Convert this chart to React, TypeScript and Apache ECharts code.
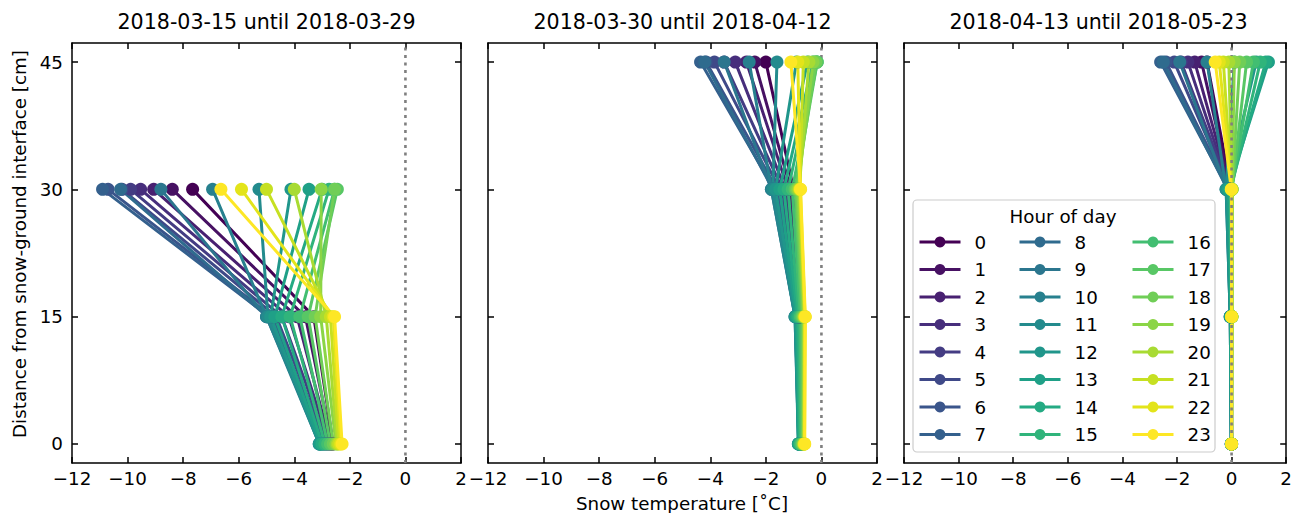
import React, { useEffect, useRef } from "react";
import * as echarts from "echarts";

const FONT = "DejaVu Sans";
const TICK_FS = 18.3;
const TITLE_FS = 20.6;

const HOURS = ["0","1","2","3","4","5","6","7","8","9","10","11","12","13","14","15","16","17","18","19","20","21","22","23"];
const PANEL_TITLES = ["2018-03-15 until 2018-03-29", "2018-03-30 until 2018-04-12", "2018-04-13 until 2018-05-23"];
const DEPTH_TICKS = [0, 15, 30, 45];

// Panel 1 (depths 0, 15, 30 cm)
const P1_T0 = [-2.6,-2.65,-2.7,-2.75,-2.8,-2.85,-2.9,-2.95,-3.0,-3.05,-3.1,-3.1,-3.1,-3.05,-3.0,-2.9,-2.8,-2.7,-2.6,-2.5,-2.45,-2.4,-2.33,-2.28];
const P1_T15 = [-3.3,-3.6,-3.9,-4.2,-4.45,-4.65,-4.8,-4.9,-4.97,-5.0,-5.0,-4.95,-4.85,-4.7,-4.45,-4.15,-3.8,-3.5,-3.25,-3.05,-2.85,-2.7,-2.6,-2.55];
const P1_T30 = [-7.66,-8.39,-9.06,-9.53,-9.89,-10.2,-10.7,-10.9,-10.25,-8.8,-6.94,-5.27,-4.12,-3.47,-3.0,-2.75,-2.55,-2.45,-2.55,-3.03,-4.0,-5.0,-5.9,-6.64];

// Panel 2 (depths 0, 15, 30, 45 cm)
const P2_T0 = [-0.72,-0.73,-0.74,-0.75,-0.76,-0.77,-0.78,-0.79,-0.8,-0.81,-0.82,-0.83,-0.83,-0.82,-0.8,-0.77,-0.74,-0.7,-0.67,-0.65,-0.63,-0.62,-0.61,-0.6];
const P2_T15 = [-0.75,-0.77,-0.8,-0.82,-0.84,-0.86,-0.88,-0.9,-0.92,-0.94,-0.95,-0.95,-0.93,-0.9,-0.86,-0.81,-0.76,-0.71,-0.67,-0.64,-0.62,-0.6,-0.59,-0.58];
const P2_T30 = [-1.0,-1.1,-1.2,-1.3,-1.4,-1.5,-1.6,-1.7,-1.75,-1.8,-1.8,-1.75,-1.65,-1.5,-1.35,-1.2,-1.05,-0.95,-0.9,-0.85,-0.8,-0.78,-0.76,-0.75];
const P2_T45 = [-2.0,-2.4,-2.7,-3.1,-3.5,-3.85,-4.15,-4.35,-4.2,-3.5,-2.6,-1.6,-0.9,-0.5,-0.3,-0.2,-0.15,-0.15,-0.2,-0.3,-0.45,-0.65,-0.85,-1.1];

// Panel 3 (depths 0, 15, 30, 45 cm)
const P3_T0 = [0.0,0.0,0.0,0.0,0.0,0.0,0.0,0.0,-0.01,-0.01,-0.01,-0.01,-0.01,-0.01,0.0,0.0,0.0,0.0,0.0,0.0,0.0,0.0,0.0,0.0];
const P3_T15 = [0.0,0.0,-0.01,-0.01,-0.02,-0.02,-0.03,-0.03,-0.04,-0.05,-0.05,-0.05,-0.04,-0.03,-0.02,-0.01,0.0,0.01,0.01,0.01,0.01,0.01,0.0,0.0];
const P3_T30 = [-0.02,-0.03,-0.04,-0.05,-0.06,-0.08,-0.1,-0.12,-0.15,-0.18,-0.2,-0.2,-0.18,-0.12,-0.06,-0.02,0.0,0.01,0.02,0.02,0.01,0.0,0.0,-0.01];
const P3_T45 = [-0.9,-1.1,-1.35,-1.6,-1.85,-2.1,-2.4,-2.6,-2.5,-1.9,-0.9,0.1,0.9,1.35,1.25,1.05,0.8,0.55,0.3,0.1,-0.1,-0.3,-0.45,-0.6];

const VIRIDIS_STOPS = ["#440154","#471365","#482475","#463480","#414487","#3b528b","#355f8d","#2f6c8e","#2a788e","#25848e","#21918c","#1e9c89","#22a884","#2fb47c","#44bf70","#5ec962","#7ad151","#9bd93c","#bddf26","#dfe318","#fde725"];

function hexToRgb(h: string) {
  return [parseInt(h.slice(1, 3), 16), parseInt(h.slice(3, 5), 16), parseInt(h.slice(5, 7), 16)];
}
function viridis(t: number) {
  const p = t * (VIRIDIS_STOPS.length - 1);
  const i = Math.min(VIRIDIS_STOPS.length - 2, Math.floor(p));
  const f = p - i;
  const a = hexToRgb(VIRIDIS_STOPS[i]);
  const b = hexToRgb(VIRIDIS_STOPS[i + 1]);
  const c = a.map((v, k) => Math.round(v + (b[k] - v) * f));
  return `rgb(${c[0]},${c[1]},${c[2]})`;
}

const fmt = (v: number) => (v < 0 ? "\u2212" + Math.abs(v) : String(v));

export default function App() {
  const ref = useRef<HTMLDivElement>(null);
  useEffect(() => {
    if (!ref.current) return;
    const chart = echarts.init(ref.current, undefined, { renderer: "svg" });

    const grids = [
      { left: 72, width: 389 },
      { left: 488, width: 389 },
      { left: 904, width: 389 },
    ].map((g) => ({ ...g, top: 43, height: 420 }));

    const tick = { inside: true, length: 6, lineStyle: { color: "#000", width: 1.5 } };
    const axisLine = { show: true, onZero: false, lineStyle: { color: "#000", width: 1.5 } };

    const xAxis: any[] = [];
    const yAxis: any[] = [];
    grids.forEach((_, p) => {
      const xBase = {
        type: "value", gridIndex: p, min: -12, max: 2, interval: 2,
        axisLine, splitLine: { show: false }, axisTick: tick,
      };
      xAxis.push({
        ...xBase, position: "bottom",
        axisLabel: { show: true, formatter: fmt, fontFamily: FONT, fontSize: TICK_FS, color: "#000", margin: 6, showMinLabel: true, showMaxLabel: true },
      });
      xAxis.push({ ...xBase, position: "top", axisLabel: { show: false } });
      const yBase = {
        type: "value", gridIndex: p, min: -2.25, max: 47.25,
        axisLine, splitLine: { show: false },
        axisTick: { ...tick, customValues: DEPTH_TICKS },
      };
      yAxis.push({
        ...yBase, position: "left",
        axisLabel: { show: p === 0, customValues: DEPTH_TICKS, fontFamily: FONT, fontSize: TICK_FS, color: "#000", margin: 9 },
      });
      yAxis.push({ ...yBase, position: "right", axisLabel: { show: false, customValues: DEPTH_TICKS } });
    });

    const panels = [
      { depths: [0, 15, 30], temps: [P1_T0, P1_T15, P1_T30] },
      { depths: [0, 15, 30, 45], temps: [P2_T0, P2_T15, P2_T30, P2_T45] },
      { depths: [0, 15, 30, 45], temps: [P3_T0, P3_T15, P3_T30, P3_T45] },
    ];

    const series: any[] = [];
    panels.forEach((pan, p) => {
      HOURS.forEach((h, i) => {
        const color = viridis(i / 23);
        series.push({
          type: "line", name: h, xAxisIndex: 2 * p, yAxisIndex: 2 * p,
          data: pan.depths.map((d, k) => [pan.temps[k][i], d]),
          symbol: "circle", symbolSize: 13, showSymbol: true,
          lineStyle: { color, width: 3 }, itemStyle: { color },
          color, silent: true,
        });
      });
      series.push({
        type: "line", name: "zero", xAxisIndex: 2 * p, yAxisIndex: 2 * p,
        data: [[0, -2.25], [0, 47.25]], symbol: "none",
        lineStyle: { color: "#7f7f7f", width: 2.6, type: [3, 4.5] }, silent: true,
      });
    });

    const legendLefts = [918, 1018, 1131];
    const legend = legendLefts.map((left, c) => ({
      orient: "vertical", left, top: 233, padding: 0,
      itemWidth: 41, itemHeight: 13.5, itemGap: 9.5,
      selectedMode: false,
      data: HOURS.slice(c * 8, c * 8 + 8),
      lineStyle: { width: 3 },
      textStyle: { fontFamily: FONT, fontSize: TICK_FS, color: "#000", padding: [0, 0, 0, 9] },
    }));

    const graphic: any[] = [
      { type: "rect", z: 3, shape: { x: 913, y: 200, width: 302, height: 252, r: 4 }, style: { fill: "rgba(255,255,255,0.85)", stroke: "#cccccc", lineWidth: 1.2 } },
      { type: "text", z: 5, x: 1063, y: 216, style: { text: "Hour of day", font: `${TICK_FS}px '${FONT}'`, fill: "#000", align: "center", verticalAlign: "middle" } },
      ...PANEL_TITLES.map((t, p) => ({
        type: "text", x: grids[p].left + grids[p].width / 2, y: 22,
        style: { text: t, font: `${TITLE_FS}px '${FONT}'`, fill: "#000", align: "center", verticalAlign: "middle" },
      })),
      { type: "text", x: 682, y: 503, style: { text: "Snow temperature [\u02daC]", font: `${TICK_FS}px '${FONT}'`, fill: "#000", align: "center", verticalAlign: "middle" } },
      { type: "text", x: 19, y: 244, rotation: Math.PI / 2, style: { text: "Distance from snow-ground interface [cm]", font: `${TICK_FS}px '${FONT}'`, fill: "#000", align: "center", verticalAlign: "middle" } },
    ];

    chart.setOption({
      animation: false,
      backgroundColor: "#fff",
      grid: grids,
      xAxis, yAxis, series, legend, graphic,
    });
    return () => chart.dispose();
  }, []);
  return <div ref={ref} style={{ position: "fixed", left: 0, top: 0, width: 1295, height: 513 }} />;
}
